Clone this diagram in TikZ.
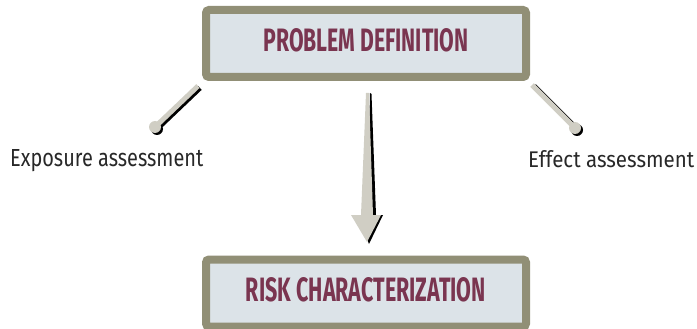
\documentclass[tikz,border=0pt]{standalone}
\usepackage{fontspec}
\setmainfont{Fira Sans}
\usepackage{tikz}
\usetikzlibrary{calc}

\definecolor{frame}{RGB}{145,143,118}
\definecolor{panel}{RGB}{220,227,232}
\definecolor{wine}{RGB}{122,53,80}
\definecolor{stone}{RGB}{208,206,196}
\definecolor{ink}{RGB}{40,40,40}

\tikzset{
	stage/.style={draw=frame, line width=8pt, fill=panel, rounded corners=3pt,
		minimum width=320pt, minimum height=67pt, inner sep=0pt},
	title/.style={inner sep=0pt, text=wine, font=\bfseries},
	side/.style={inner sep=0pt, anchor=base west, text=ink},
	stick/.style={line width=5pt, draw=stone},
	stickshadow/.style={line width=5pt, draw=black},
}

\begin{document}
\begin{tikzpicture}[x=1pt, y=-1pt]
\useasboundingbox (0,0) rectangle (697,329);

% boxes
\node[stage] (pdbox) at (366,43.5) {};
\node[title] (pd) at ($(pdbox)+(0,-3)$) {\resizebox{205pt}{23pt}{PROBLEM DEFINITION}};
\node[stage] (rcbox) at (366,293) {};
\node[title] (rc) at ($(rcbox)+(0,-3)$) {\resizebox{240pt}{24pt}{RISK CHARACTERIZATION}};

% side labels
\node[side] (expo) at (10,167) {\resizebox{193pt}{17pt}{Exposure assessment}};
\node[side] (effe) at (528,167) {\resizebox{166pt}{17pt}{Effect assessment}};

% sticks
\coordinate (lt) at (198,86);
\coordinate (le) at (155,127);
\coordinate (rt) at (532,85);
\coordinate (re) at (575,128);
\draw[stickshadow] ($(lt)+(2,2)$) -- ($(le)+(2,2)$);
\fill[black] ($(le)+(2,2)$) circle (6pt);
\draw[stick] (lt) -- (le);
\fill[stone] (le) circle (6pt);
\draw[stickshadow] ($(rt)+(2,1)$) -- ($(re)+(2,1)$);
\fill[black] ($(re)+(2,2)$) circle (6pt);
\draw[stick] (rt) -- (re);
\fill[stone] (re) circle (6pt);

% arrow
\coordinate (at) at (367.5,93);
\coordinate (ab) at (367,242);
\fill[black] ($(at)+(2.5,0)$) -- ($(at)+(4,1)$) -- ($(ab)+(9,-27)$) -- ($(ab)+(16,-27)$)
	-- ($(ab)+(2,2)$) -- ($(ab)+(0,-3)$) -- cycle;
\fill[stone] ($(at)+(-1.5,0)$) -- ($(at)+(1.5,0)$) -- ($(ab)+(6,-27)$) -- ($(ab)+(14,-27)$)
	-- (ab) -- ($(ab)+(-16,-27)$) -- ($(ab)+(-6,-27)$) -- cycle;
\end{tikzpicture}
\end{document}
